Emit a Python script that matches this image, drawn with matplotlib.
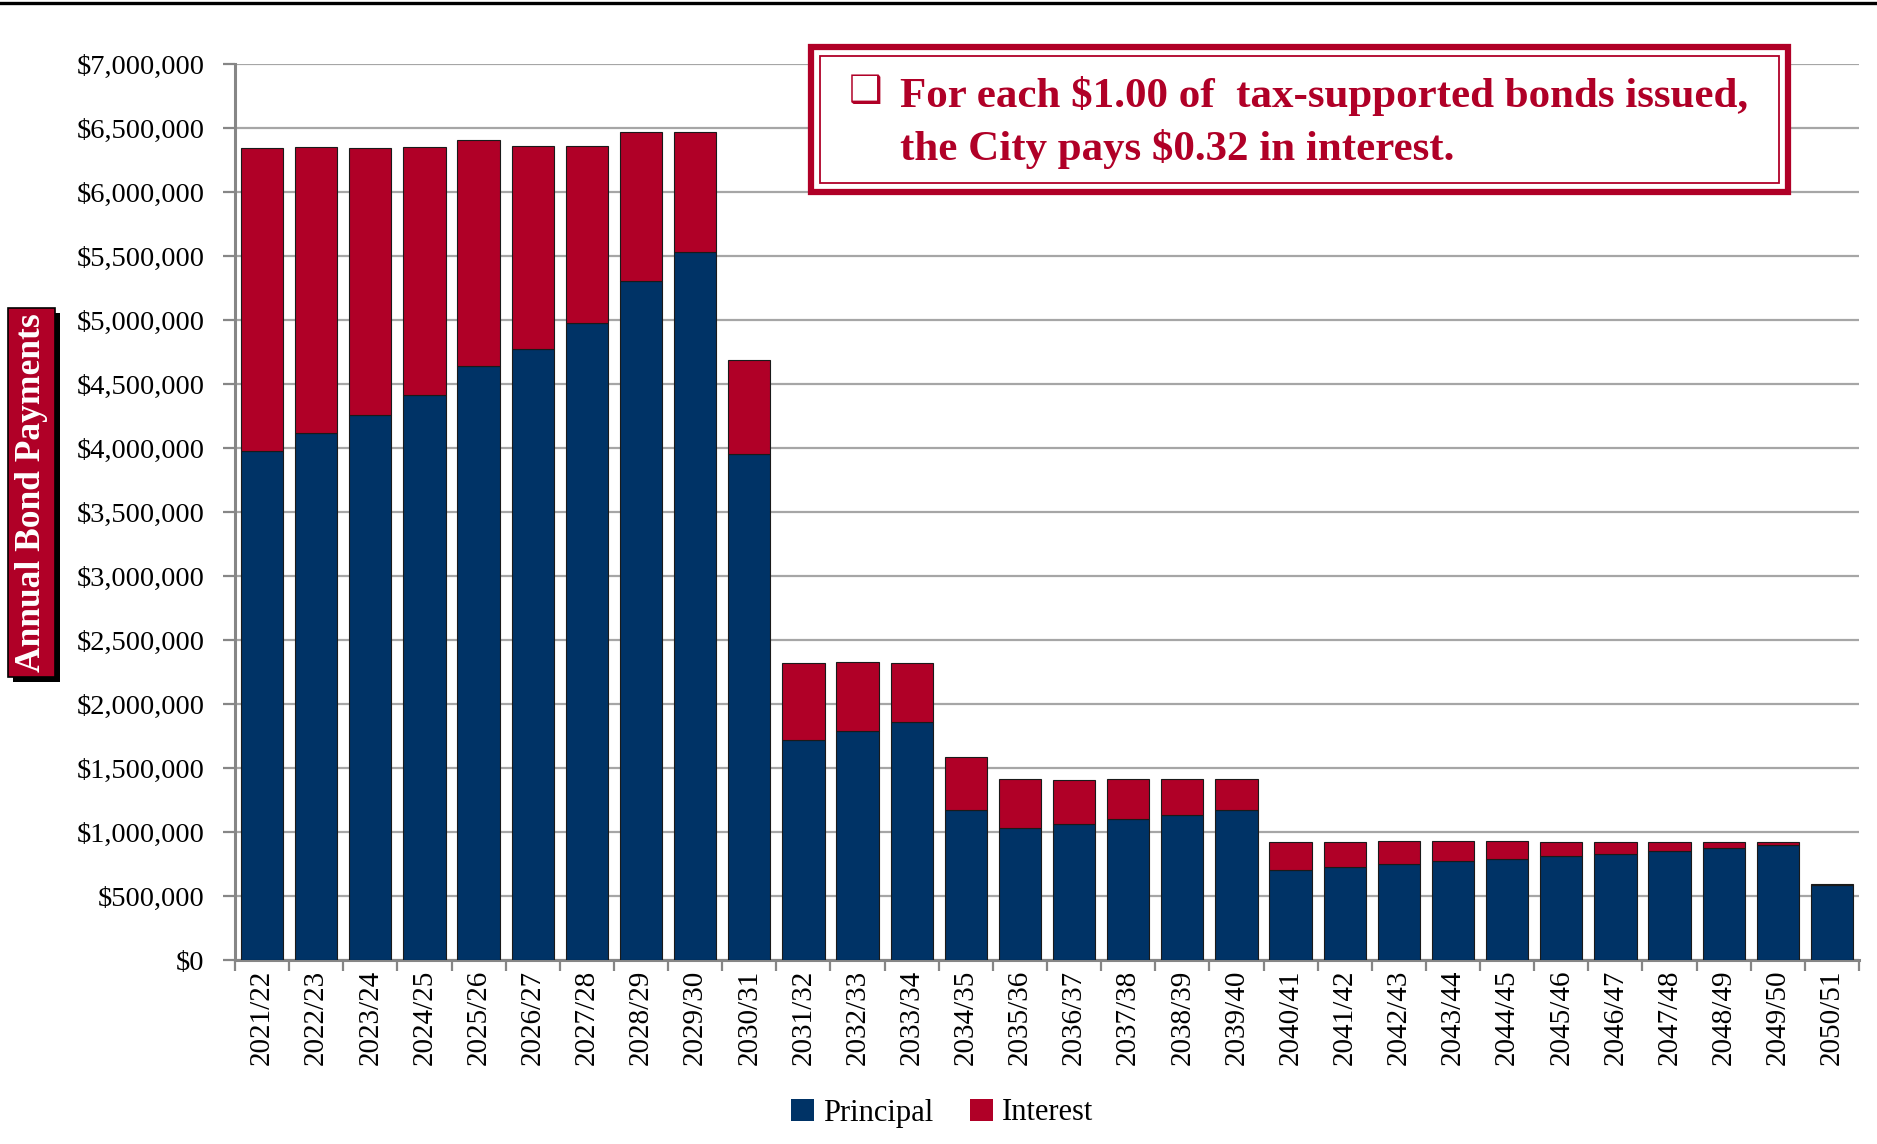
import matplotlib
matplotlib.use("Agg")
import matplotlib.pyplot as plt
from matplotlib.patches import Rectangle, Patch
from matplotlib.lines import Line2D
from matplotlib.ticker import FuncFormatter, FixedLocator

# fiscal years and annual debt service split into principal / interest
years = ["2021/22", "2022/23", "2023/24", "2024/25", "2025/26", "2026/27",
         "2027/28", "2028/29", "2029/30", "2030/31", "2031/32", "2032/33",
         "2033/34", "2034/35", "2035/36", "2036/37", "2037/38", "2038/39",
         "2039/40", "2040/41", "2041/42", "2042/43", "2043/44", "2044/45",
         "2045/46", "2046/47", "2047/48", "2048/49", "2049/50", "2050/51"]
principal = [3979000, 4115000, 4255000, 4414000, 4638000, 4773000,
             4974000, 5302000, 5528000, 3953000, 1716000, 1789000,
             1857000, 1174000, 1034000, 1063000, 1099000, 1130000,
             1169000, 703000, 724000, 750000, 771000, 789000,
             812000, 831000, 852000, 875000, 898000, 583000]
interest = [2366000, 2234000, 2091000, 1935000, 1766000, 1584000,
            1388000, 1167000, 941000, 733000, 604000, 537000,
            466000, 414000, 377000, 346000, 312000, 284000,
            245000, 219000, 195000, 177000, 156000, 138000,
            112000, 91000, 70000, 49000, 21000, 11000]

navy = '#003366'
red = '#b00027'
grid_grey = '#a6a6a6'
axis_grey = '#868686'

plt.rcParams['font.family'] = ['Liberation Serif', 'DejaVu Serif']

W, H = 1877, 1144
fig = plt.figure(figsize=(W / 100, H / 100), dpi=100)

# plot area in pixel terms -> figure fractions
left, right, top, bottom = 235, 1859, 64, 960
ax = fig.add_axes([left / W, 1 - bottom / H, (right - left) / W, (bottom - top) / H])

x = list(range(len(years)))
ax.bar(x, principal, width=0.78, color=navy, edgecolor='#1a1a1a', linewidth=0.8,
       label='Principal', zorder=3)
ax.bar(x, interest, width=0.78, bottom=principal, color=red, edgecolor='#1a1a1a',
       linewidth=0.8, label='Interest', zorder=3)

ax.set_xlim(-0.5, len(years) - 0.5)
ax.set_ylim(0, 7000000)
ax.set_yticks(range(0, 7000001, 500000))
ax.yaxis.set_major_formatter(FuncFormatter(lambda v, p: '${:,.0f}'.format(v)))
ax.grid(axis='y', color=grid_grey, linewidth=1.6, zorder=0)
ax.set_axisbelow(True)

# year labels centred under bars, tick marks between bars
ax.set_xticks(x)
ax.set_xticklabels(years, rotation=90, fontsize=21)
ax.tick_params(axis='x', length=0, pad=7)
ax.xaxis.set_minor_locator(FixedLocator([i + 0.5 for i in range(-1, len(years))]))
ax.tick_params(axis='x', which='minor', length=8, width=1.6, color=axis_grey)
ax.tick_params(axis='y', labelsize=20.5, length=9, width=1.6, color=axis_grey, pad=13)

for s in ['top', 'right']:
    ax.spines[s].set_visible(False)
for s in ['left', 'bottom']:
    ax.spines[s].set_color(axis_grey)
    ax.spines[s].set_linewidth(2.2)

# rule across the top of the page
fig.add_artist(Line2D([0, 1], [1 - 3 / H, 1 - 3 / H], color='black', linewidth=2.4,
                      transform=fig.transFigure))

# boxed y-axis title with drop shadow
bx0, bx1, bx_y0, bx_y1 = 8, 55, 308, 677
fig.patches.append(Rectangle((bx0 / W + 5 / W, 1 - bx_y1 / H - 5 / H), (bx1 - bx0) / W,
                             (bx_y1 - bx_y0) / H, transform=fig.transFigure,
                             facecolor='black', edgecolor='none'))
fig.patches.append(Rectangle((bx0 / W, 1 - bx_y1 / H), (bx1 - bx0) / W, (bx_y1 - bx_y0) / H,
                             transform=fig.transFigure, facecolor=red,
                             edgecolor='black', linewidth=1.2))
fig.text((bx0 + bx1) / 2 / W, 1 - (bx_y0 + bx_y1) / 2 / H, 'Annual Bond Payments',
         rotation=90, ha='center', va='center', color='white', fontsize=25.5,
         fontweight='bold')

# call-out box with double red border
ox0, ox1, oy0, oy1 = 811, 1788, 47, 192
fig.patches.append(Rectangle((ox0 / W, 1 - oy1 / H), (ox1 - ox0) / W, (oy1 - oy0) / H,
                             transform=fig.transFigure, facecolor='white',
                             edgecolor=red, linewidth=4.5, zorder=5))
ins = 9
fig.patches.append(Rectangle(((ox0 + ins) / W, 1 - (oy1 - ins) / H),
                             (ox1 - ox0 - 2 * ins) / W, (oy1 - oy0 - 2 * ins) / H,
                             transform=fig.transFigure, facecolor='none',
                             edgecolor=red, linewidth=1.3, zorder=6))
fig.text(866 / W, 1 - 92 / H, '\u2751', ha='center', va='center', color=red,
         fontsize=27, fontweight='bold', family='DejaVu Sans', zorder=7)
fig.text(900 / W, 1 - 96 / H, 'For each $1.00 of  tax-supported bonds issued,',
         ha='left', va='center', color=red, fontsize=31, fontweight='bold', zorder=7)
fig.text(900 / W, 1 - 149 / H, 'the City pays $0.32 in interest.',
         ha='left', va='center', color=red, fontsize=31, fontweight='bold', zorder=7)

handles = [Patch(facecolor=navy, edgecolor='none', label='Principal'),
           Patch(facecolor=red, edgecolor='none', label='Interest')]
fig.legend(handles=handles, loc='center', bbox_to_anchor=(942 / W, 1 - 1113 / H),
           ncol=2, frameon=False, fontsize=22, handlelength=0.75, handleheight=0.75,
           handletextpad=0.3, columnspacing=1.2)

fig.savefig('out.png', dpi=100)
